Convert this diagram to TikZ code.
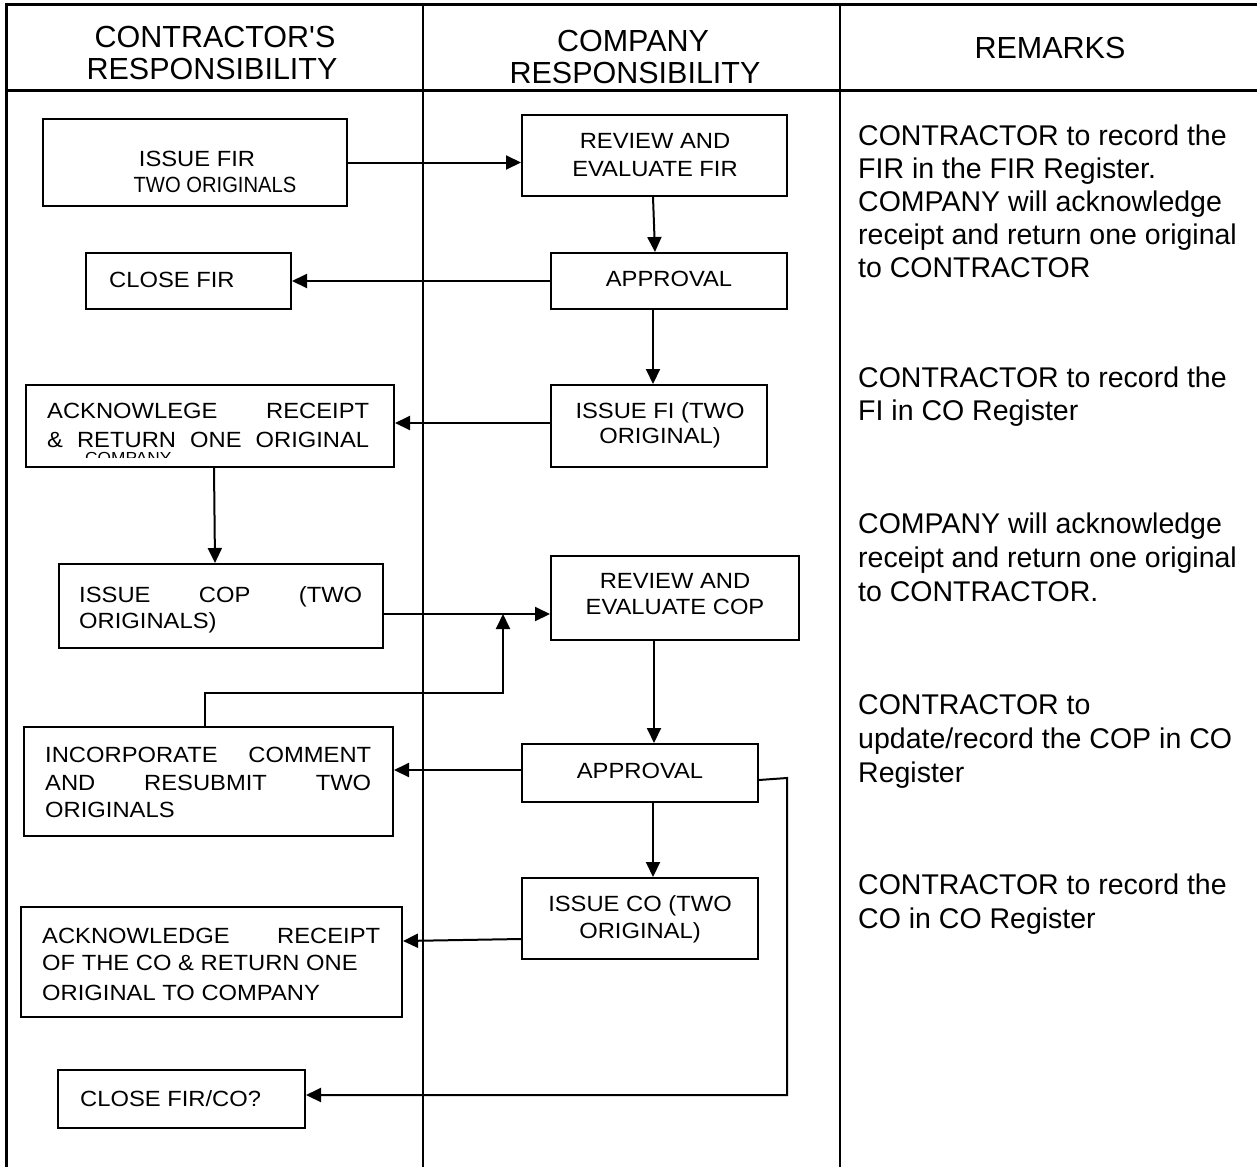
\documentclass[tikz,border=0pt]{standalone}
\usepackage{fontspec}
\setmainfont{Liberation Sans}
\newfontfamily\boxfont[FakeStretch=1.08]{Liberation Sans}
\usetikzlibrary{arrows.meta}
\begin{document}
\begin{tikzpicture}[x=1pt,y=-1pt,
  box/.style={draw, line width=2pt, inner sep=0pt, rectangle},
  arr/.style={line width=2pt, -{Triangle[length=15pt,width=14pt]}},
  tl/.style={inner sep=0pt, anchor=base},
  tlw/.style={inner sep=0pt, anchor=base west},
  bf/.style={font=\boxfont\fontsize{22}{26}\selectfont},
  hf/.style={font=\fontsize{30.5}{32}\selectfont},
  rf/.style={font=\fontsize{28.5}{33}\selectfont},
  thick rule/.style={line width=3pt},
  thin rule/.style={line width=2pt}]
\useasboundingbox (0,0) rectangle (1257,1167);
% table
\draw[thick rule] (5,4) -- (1257,4);
\draw[thick rule] (5,90) -- (1257,90);
\draw[line width=2.5pt] (6.5,2.5) -- (6.5,1167);
\draw[thin rule] (423,4) -- (423,1167);
\draw[thin rule] (840,4) -- (840,1167);
% header
\node[tl,hf] (h1a) at (215,47) {CONTRACTOR\textquotesingle S};
\node[tl,hf] (h1b) at (212,79) {RESPONSIBILITY};
\node[tl,hf] (h2a) at (633,51) {COMPANY};
\node[tl,hf] (h2b) at (635,83) {RESPONSIBILITY};
\node[tl,hf] (h3) at (1050,58) {REMARKS};
% boxes
\node[box, minimum width=304pt, minimum height=87pt] (fir) at (195,162.5) {};
\node[box, minimum width=205pt, minimum height=56pt] (closefir) at (188.5,281) {};
\node[box, minimum width=265pt, minimum height=81pt] (revfir) at (654.5,155.5) {};
\node[box, minimum width=236pt, minimum height=56pt] (appr1) at (669,281) {};
\node[box, minimum width=216pt, minimum height=82pt] (issuefi) at (659,426) {};
\node[box, minimum width=368pt, minimum height=82pt] (ack1) at (210,426) {};
\node[box, minimum width=324pt, minimum height=84pt] (issuecop) at (221,606) {};
\node[box, minimum width=248pt, minimum height=84pt] (revcop) at (675,598) {};
\node[box, minimum width=369pt, minimum height=109pt] (incorp) at (208.5,781.5) {};
\node[box, minimum width=236pt, minimum height=58pt] (appr2) at (640,773) {};
\node[box, minimum width=236pt, minimum height=81pt] (issueco) at (640,918.5) {};
\node[box, minimum width=381pt, minimum height=110pt] (ack2) at (211.5,962) {};
\node[box, minimum width=247pt, minimum height=58pt] (closeco) at (181.5,1099) {};
% box texts
\node[tl,bf] (firA) at (197,166) {ISSUE FIR};
\node[tl,bf] (firB) at (215,192) {\scalebox{0.85}[1]{TWO ORIGINALS}};
\node[tlw,bf] (closefirA) at (109,287) {CLOSE FIR};
\node[tl,bf] (revfirA) at (655,148) {REVIEW AND};
\node[tl,bf] (revfirB) at (655,176) {EVALUATE FIR};
\node[tl,bf] (appr1A) at (669,286) {APPROVAL};
\node[tl,bf] (issuefiA) at (660,418) {ISSUE FI (TWO};
\node[tl,bf] (issuefiB) at (660,443) {ORIGINAL)};
\node[tlw,bf] (ack1A) at (47,418) {\makebox[322pt][s]{ACKNOWLEGE RECEIPT}};
\node[tlw,bf] (ack1B) at (47,447) {\makebox[322pt][s]{\& RETURN ONE ORIGINAL}};
\begin{scope}
  \clip (26,385) rectangle (394,457);
  \node[tlw, font=\boxfont\fontsize{16}{19}\selectfont] (ack1C) at (85,463.5) {COMPANY};
\end{scope}
\node[tlw,bf] (issuecopA) at (79,602) {\makebox[283pt][s]{ISSUE COP (TWO}};
\node[tlw,bf] (issuecopB) at (79,628) {ORIGINALS)};
\node[tl,bf] (revcopA) at (675,588) {REVIEW AND};
\node[tl,bf] (revcopB) at (675,614) {EVALUATE COP};
\node[tlw,bf] (incorpA) at (45,762) {\makebox[326pt][s]{INCORPORATE COMMENT}};
\node[tlw,bf] (incorpB) at (45,790) {\makebox[326pt][s]{AND RESUBMIT TWO}};
\node[tlw,bf] (incorpC) at (45,817) {ORIGINALS};
\node[tl,bf] (appr2A) at (640,778) {APPROVAL};
\node[tl,bf] (issuecoA) at (640,911) {ISSUE CO (TWO};
\node[tl,bf] (issuecoB) at (640,938) {ORIGINAL)};
\node[tlw,bf] (ack2A) at (42,943) {\makebox[338pt][s]{ACKNOWLEDGE RECEIPT}};
\node[tlw,bf] (ack2B) at (42,970) {OF THE CO \& RETURN ONE};
\node[tlw,bf] (ack2C) at (42,1000) {ORIGINAL TO COMPANY};
\node[tlw,bf] (closecoA) at (80,1106) {CLOSE FIR/CO?};
% remarks
\node[tlw,rf] (r1a) at (858,145) {CONTRACTOR to record the};
\node[tlw,rf] (r1b) at (858,178) {FIR in the FIR Register.};
\node[tlw,rf] (r1c) at (858,211) {COMPANY will acknowledge};
\node[tlw,rf] (r1d) at (858,244) {receipt and return one original};
\node[tlw,rf] (r1e) at (858,277) {to CONTRACTOR};
\node[tlw,rf] (r2a) at (858,387) {CONTRACTOR to record the};
\node[tlw,rf] (r2b) at (858,420) {FI in CO Register};
\node[tlw,rf] (r3a) at (858,533) {COMPANY will acknowledge};
\node[tlw,rf] (r3b) at (858,567) {receipt and return one original};
\node[tlw,rf] (r3c) at (858,601) {to CONTRACTOR.};
\node[tlw,rf] (r4a) at (858,714) {CONTRACTOR to};
\node[tlw,rf] (r4b) at (858,748) {update/record the COP in CO};
\node[tlw,rf] (r4c) at (858,782) {Register};
\node[tlw,rf] (r5a) at (858,894) {CONTRACTOR to record the};
\node[tlw,rf] (r5b) at (858,928) {CO in CO Register};
% connectors
\draw[arr] (fir.east) -- (fir.east -| revfir.west);
\draw[arr] ([xshift=-1.5pt]revfir.south) -- ([xshift=-14pt]appr1.north);
\draw[arr] (appr1.west) -- (closefir.east);
\draw[arr] ([xshift=-16pt]appr1.south) -- ([xshift=-6pt]issuefi.north);
\draw[arr] ([yshift=3pt]issuefi.west) -- ([yshift=3pt]ack1.east);
\draw[arr] ([xshift=4pt]ack1.south) -- ([xshift=-6pt]issuecop.north);
\coordinate (c1) at ([yshift=-8pt]issuecop.east);
\draw[arr] (c1) -- (c1 -| revcop.west);
\coordinate (j) at (503,614);
\coordinate (k) at (503,693);
\draw[arr] ([xshift=-3.5pt]incorp.north) |- (k) -- (j);
\draw[arr] ([xshift=-21pt]revcop.south) -- ([xshift=14pt]appr2.north);
\coordinate (c2) at ([yshift=3pt]appr2.west);
\draw[arr] (c2) -- (c2 -| incorp.east);
\draw[arr] ([xshift=13pt]appr2.south) -- ([xshift=13pt]issueco.north);
\draw[arr] ([yshift=-20.5pt]issueco.west) -- ([yshift=21pt]ack2.east);
\coordinate (m1) at (787,778);
\coordinate (m2) at (787,1095);
\draw[arr] ([yshift=-7pt]appr2.east) -- (m1) -- (m2) -- (m2 -| closeco.east);
\end{tikzpicture}
\end{document}
